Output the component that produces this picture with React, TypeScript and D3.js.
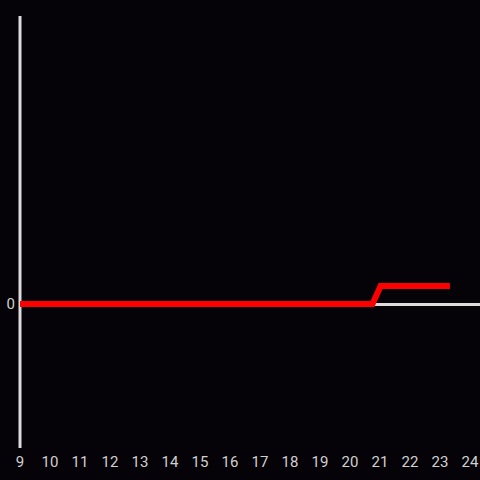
import React from "react";
import * as d3 from "d3";

const hours = [9, 10, 11, 12, 13, 14, 15, 16, 17, 18, 19, 20, 21, 22, 23, 24];
const yTicks = [0];
const seriesX = [9, 20.75, 21.02, 23.33];
const seriesY = [0, 0, 0.125, 0.125];

const W = 480;
const H = 480;

export default function App() {
  const x = d3.scaleLinear().domain([9, 24]).range([20, 470]);
  const y = d3.scaleLinear().domain([-1, 2]).range([448, 16]);
  const pts: [number, number][] = seriesX.map((v, i) => [v, seriesY[i]]);
  const line = d3
    .line<[number, number]>()
    .x((d) => x(d[0]))
    .y((d) => y(d[1]));
  const axisColor = "#dcdcdc";
  const textColor = "#d0d0d0";
  return (
    <svg
      width={W}
      height={H}
      style={{ position: "fixed", left: 0, top: 0, display: "block" }}
      fontFamily="Roboto, 'Open Sans', sans-serif"
    >
      <rect x={0} y={0} width={W} height={H} fill="#050307" />
      <line x1={x(9)} x2={W} y1={y(0) + 0.5} y2={y(0) + 0.5} stroke={axisColor} strokeWidth={3} />
      <line x1={x(9)} x2={x(9)} y1={16} y2={448} stroke={axisColor} strokeWidth={3} />
      <path d={line(pts) || ""} fill="none" stroke="#ff0000" strokeWidth={6} />
      {hours.map((h) => (
        <text key={h} x={x(h)} y={466.5} textAnchor="middle" fontSize={15} fill={textColor}>
          {h}
        </text>
      ))}
      {yTicks.map((t) => (
        <text key={t} x={15} y={y(t)} dy="0.35em" textAnchor="end" fontSize={15} fill={textColor}>
          {t}
        </text>
      ))}
    </svg>
  );
}
